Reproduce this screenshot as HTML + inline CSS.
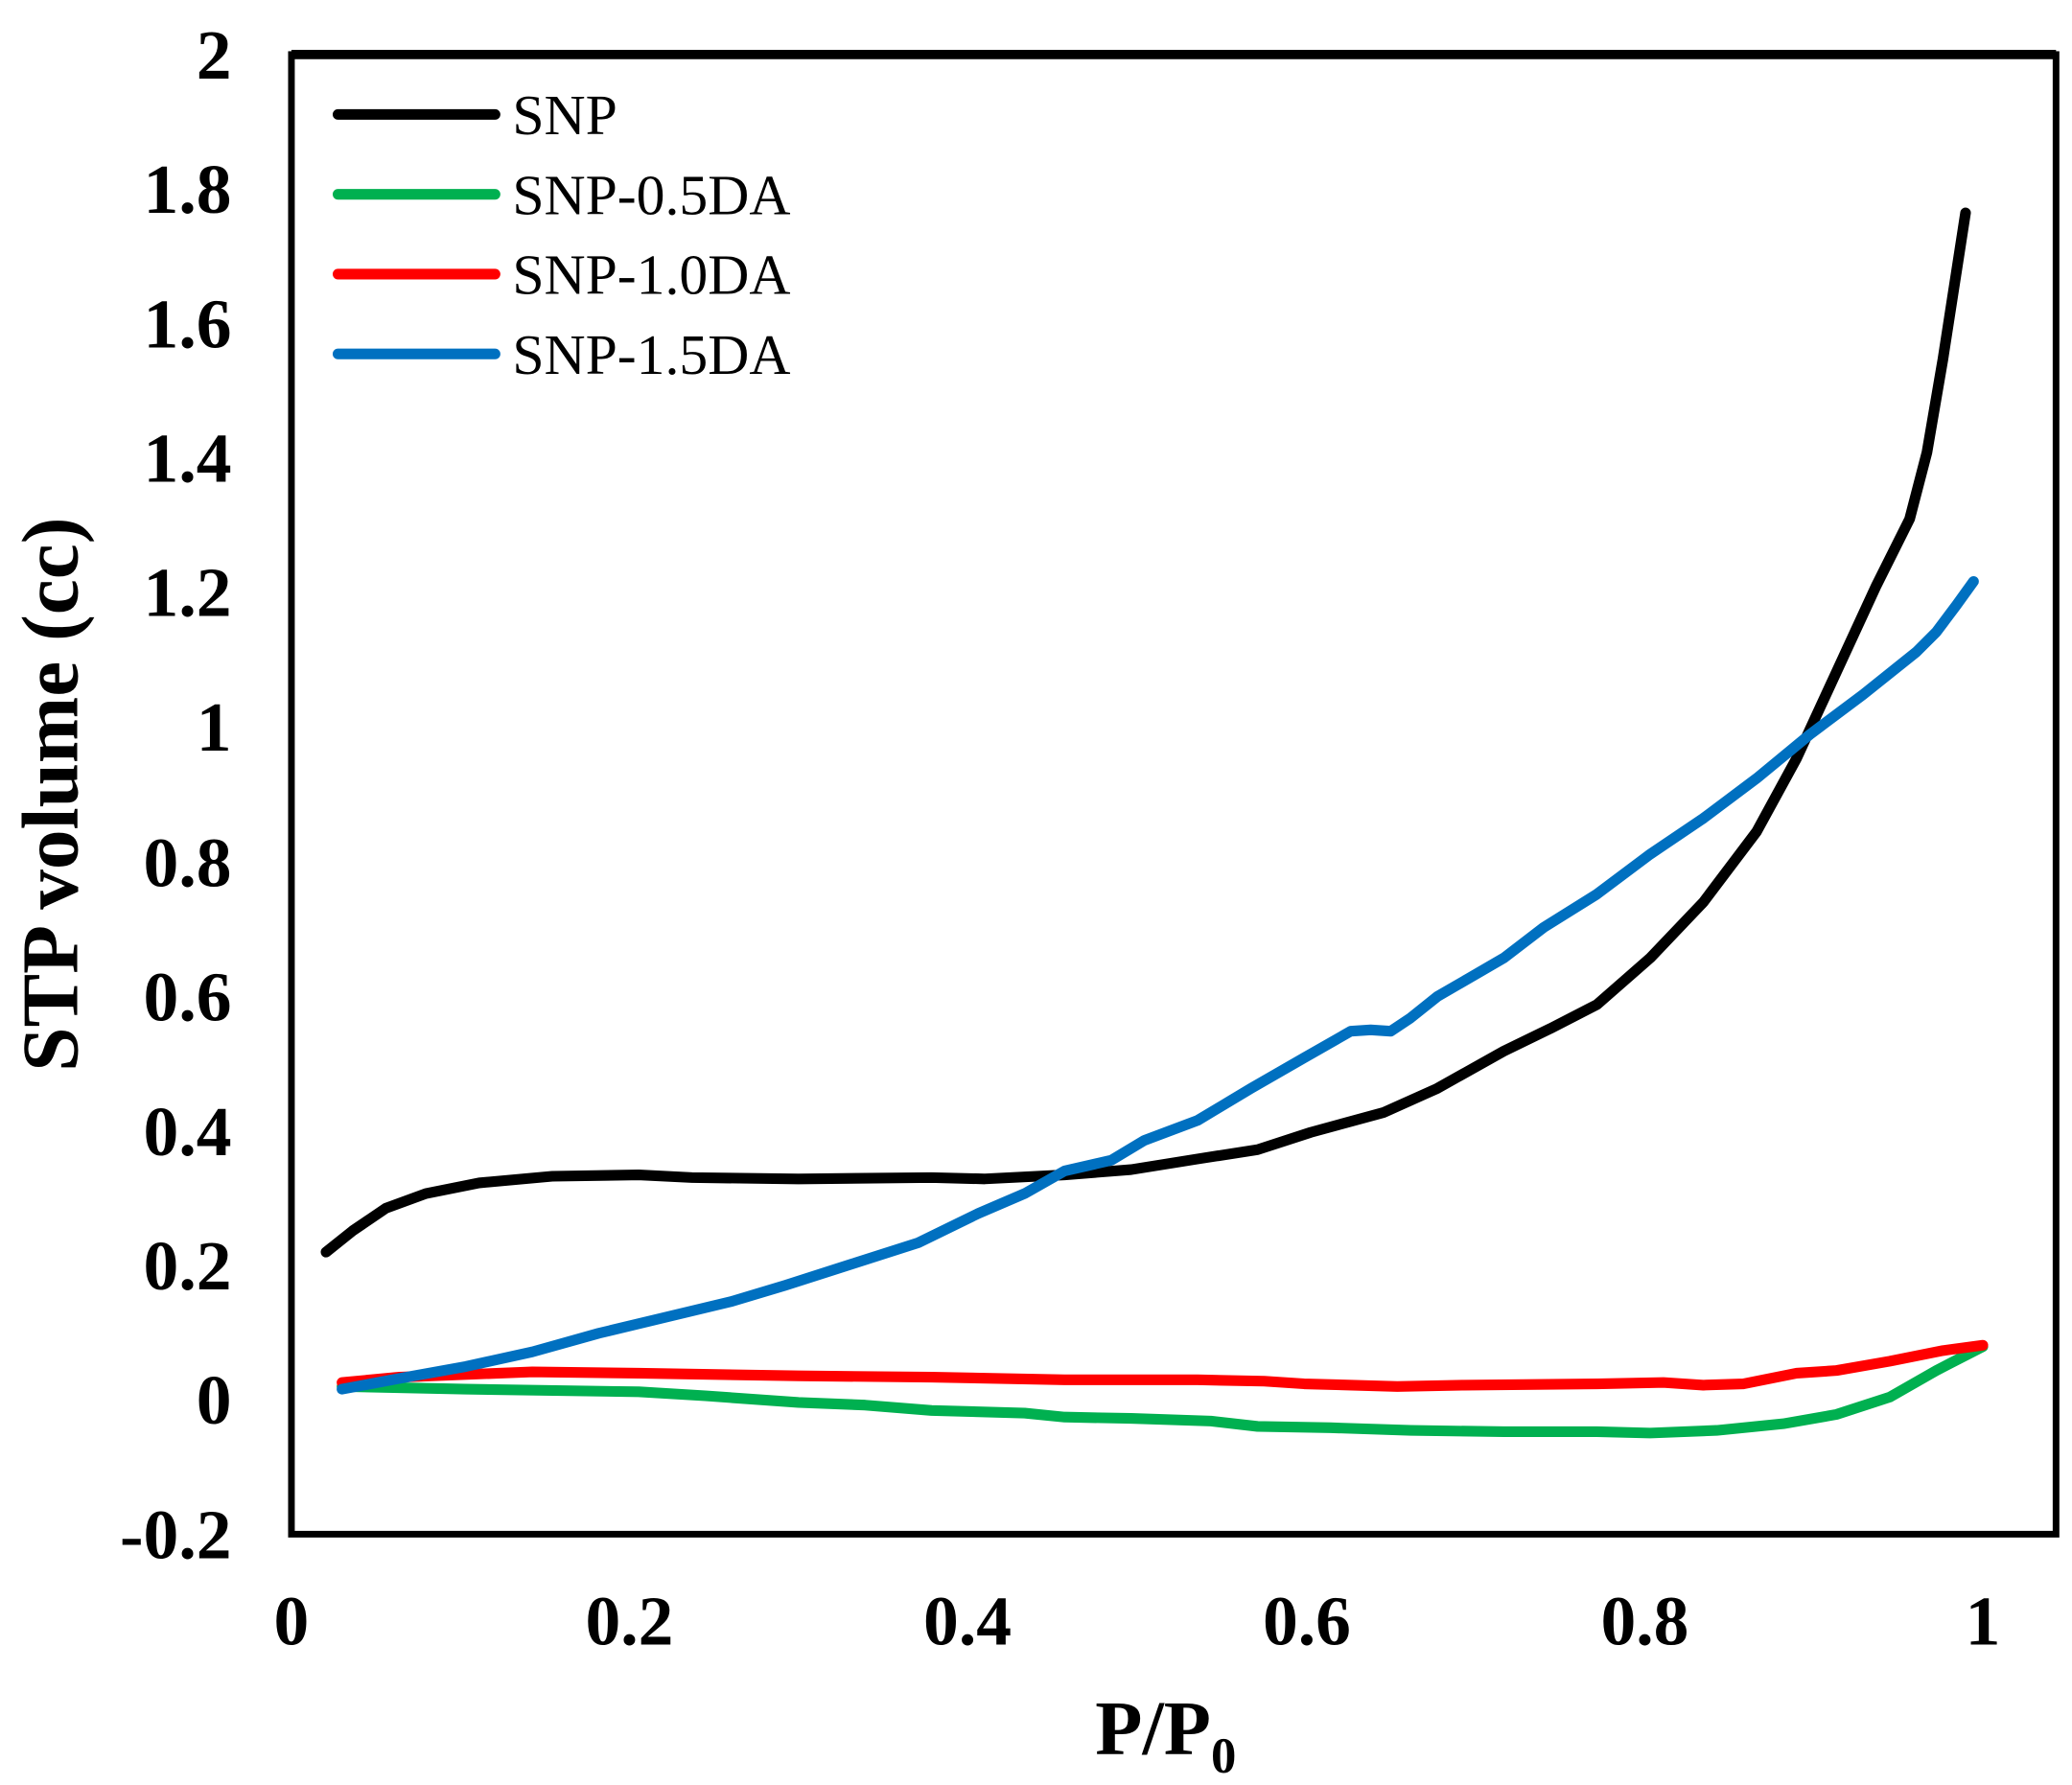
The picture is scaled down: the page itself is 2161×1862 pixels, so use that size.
<!DOCTYPE html>
<html><head><style>html,body{margin:0;padding:0;background:#fff}svg{display:block}</style></head>
<body>
<svg width="2161" height="1862" viewBox="0 0 1557 1341.5" preserveAspectRatio="none" xmlns="http://www.w3.org/2000/svg">
<rect x="0" y="0" width="1557" height="1342" fill="#fff"/>
<rect x="219" y="41" width="1326" height="1112" fill="none" stroke="#000" stroke-width="5"/>
<line x1="219" y1="41" x2="1545" y2="41" stroke="#000" stroke-width="7"/>
<g font-family="Liberation Serif, serif" font-weight="bold" font-size="53" fill="#000" text-anchor="end">
<text x="174" y="59">2</text>
<text x="174" y="160">1.8</text>
<text x="174" y="261">1.6</text>
<text x="174" y="362">1.4</text>
<text x="174" y="463">1.2</text>
<text x="174" y="564">1</text>
<text x="174" y="666">0.8</text>
<text x="174" y="767">0.6</text>
<text x="174" y="868">0.4</text>
<text x="174" y="969">0.2</text>
<text x="174" y="1070">0</text>
<text x="174" y="1171">-0.2</text>
</g>
<g font-family="Liberation Serif, serif" font-weight="bold" font-size="53" fill="#000" text-anchor="middle">
<text x="219" y="1236">0</text>
<text x="473" y="1236">0.2</text>
<text x="727" y="1236">0.4</text>
<text x="982" y="1236">0.6</text>
<text x="1236" y="1236">0.8</text>
<text x="1490" y="1236">1</text>
</g>
<text x="876" y="1318" font-family="Liberation Serif, serif" font-weight="bold" font-size="58" text-anchor="middle">P/P<tspan font-size="38" dy="14">0</tspan></text>
<text transform="translate(58,597) rotate(-90)" font-family="Liberation Serif, serif" font-weight="bold" font-size="60" text-anchor="middle">STP volume (cc)</text>
<g fill="none" stroke-width="8" stroke-linejoin="round" stroke-linecap="round">
<polyline stroke="#000" points="245,941 265,925 290,908 320,897 360,889 415,884 480,883 520,885 600,886 700,885 740,886 800,883 850,879 900,871 945,864 985,851 1040,836 1080,818 1130,790 1165,773 1200,755 1240,720 1280,678 1320,625 1350,570 1380,505 1410,440 1435,390 1448,340 1460,270 1477,160"/>
<polyline stroke="#00b050" points="257,1042 350,1044 480,1046 530,1049 600,1054 650,1056 700,1060 770,1062 800,1065 850,1066 910,1068 945,1072 1000,1073 1060,1075 1130,1076 1200,1076 1240,1077 1290,1075 1340,1070 1380,1063 1420,1050 1455,1030 1490,1012"/>
<polyline stroke="#ff0000" points="257,1039 300,1035 400,1031 480,1032 600,1034 700,1035 800,1037 900,1037 950,1038 980,1040 1050,1042 1100,1041 1200,1040 1250,1039 1280,1041 1310,1040 1350,1032 1380,1030 1420,1023 1460,1015 1490,1011"/>
<polyline stroke="#0070c0" points="257,1044 300,1036 350,1027 400,1016 450,1002 500,990 550,978 590,966 640,950 690,934 735,912 770,897 800,880 835,872 860,857 900,842 940,818 980,795 1015,775 1030,774 1045,775 1060,765 1080,749 1130,720 1160,697 1200,672 1240,642 1280,615 1320,585 1360,552 1400,522 1440,490 1455,475 1470,455 1483,437"/>
<line stroke="#000" x1="254" y1="86" x2="372" y2="86"/>
<line stroke="#00b050" x1="254" y1="146" x2="372" y2="146"/>
<line stroke="#ff0000" x1="254" y1="206" x2="372" y2="206"/>
<line stroke="#0070c0" x1="254" y1="266" x2="372" y2="266"/>
</g>
<g font-family="Liberation Serif, serif" font-size="43" fill="#000">
<text x="385" y="101">SNP</text>
<text x="385" y="161">SNP-0.5DA</text>
<text x="385" y="221">SNP-1.0DA</text>
<text x="385" y="281">SNP-1.5DA</text>
</g>
</svg>
</body></html>
